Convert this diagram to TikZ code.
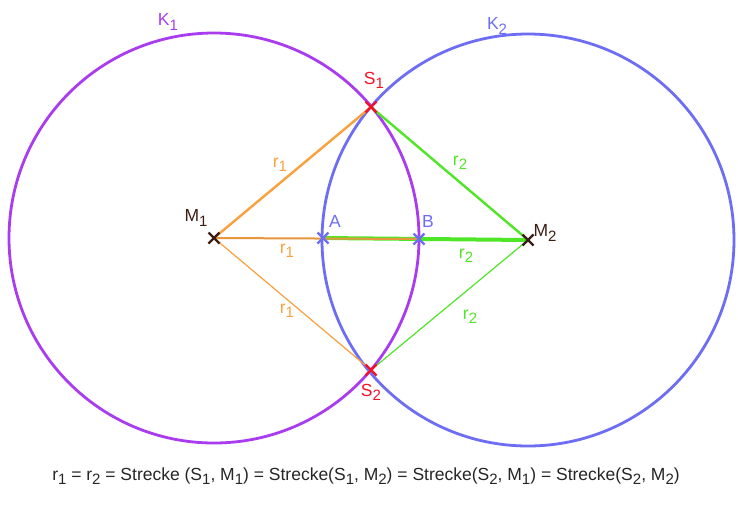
\documentclass[tikz,border=0pt]{standalone}
\usepackage{fontspec}
\setmainfont{Liberation Sans}
\usetikzlibrary{calc}
\definecolor{kone}{RGB}{170,60,240}
\definecolor{ktwo}{RGB}{110,110,245}
\definecolor{org}{RGB}{250,160,60}
\definecolor{grn}{RGB}{80,230,40}
\definecolor{dred}{RGB}{240,20,40}
\definecolor{dk}{RGB}{60,30,20}
\newcommand{\sbs}[1]{\raisebox{-0.45ex}{\fontsize{15}{17}\selectfont #1}}
\begin{document}
\begin{tikzpicture}[x=1pt,y=-1pt,font=\fontsize{17.5}{20}\selectfont,
  cross/.style={line width=2.2pt},
  lbl/.style={inner sep=1pt}]
\useasboundingbox (0,0) rectangle (738,515);
\fill[white] (0,0) rectangle (738,515);
\coordinate (M1) at (214,238);
\coordinate (M2) at (528,240);
\coordinate (S1) at (371,107);
\coordinate (S2) at (371,370);
\coordinate (A) at (323,238);
\coordinate (B) at (419,239);
\draw[kone,line width=2.8pt] (M1) circle (205);
\draw[ktwo,line width=2.8pt] (M2) circle (206);
\draw[org,line width=2.4pt] (M1) -- (S1);
\draw[org,line width=1.2pt] (M1) -- (S2);
\draw[grn,line width=2.4pt] (S1) -- (M2);
\draw[grn,line width=1.2pt] (S2) -- (M2);
\draw[grn,line width=4pt] (A) -- (M2);
\draw[org!70!brown,line width=2pt] (M1) -- (B);
\foreach \p/\c in {M1/dk,M2/dk,S1/dred,S2/dred,A/ktwo,B/ktwo}{
  \draw[\c,cross] ($(\p)+(-5.5,-5.5)$) -- ($(\p)+(5.5,5.5)$) ($(\p)+(-5.5,5.5)$) -- ($(\p)+(5.5,-5.5)$);}
\node[lbl,kone] (k1) at (168,22) {K\sbs{1}};
\node[lbl,ktwo] (k2) at (497,26) {K\sbs{2}};
\node[lbl,dred] (s1) at (374,80) {S\sbs{1}};
\node[lbl,dred] (s2) at (371,392) {S\sbs{2}};
\node[lbl,dk] (m1) at (196,218) {M\sbs{1}};
\node[lbl,dk] (m2) at (545,233) {M\sbs{2}};
\node[lbl,ktwo] (a) at (335,221) {A};
\node[lbl,ktwo] (b) at (428,221) {B};
\node[lbl,org] (r1a) at (280,165) {r\sbs{1}};
\node[lbl,org] (r1b) at (287,251) {r\sbs{1}};
\node[lbl,org] (r1c) at (287,311) {r\sbs{1}};
\node[lbl,grn] (r2a) at (460,163) {r\sbs{2}};
\node[lbl,grn] (r2b) at (466,256) {r\sbs{2}};
\node[lbl,grn] (r2c) at (470,317) {r\sbs{2}};
\node[lbl,black!85] (eq) at (366,476) {r\sbs{1} = r\sbs{2} = Strecke (S\sbs{1}, M\sbs{1}) = Strecke(S\sbs{1}, M\sbs{2}) = Strecke(S\sbs{2}, M\sbs{1}) = Strecke(S\sbs{2}, M\sbs{2})};
\end{tikzpicture}
\end{document}
